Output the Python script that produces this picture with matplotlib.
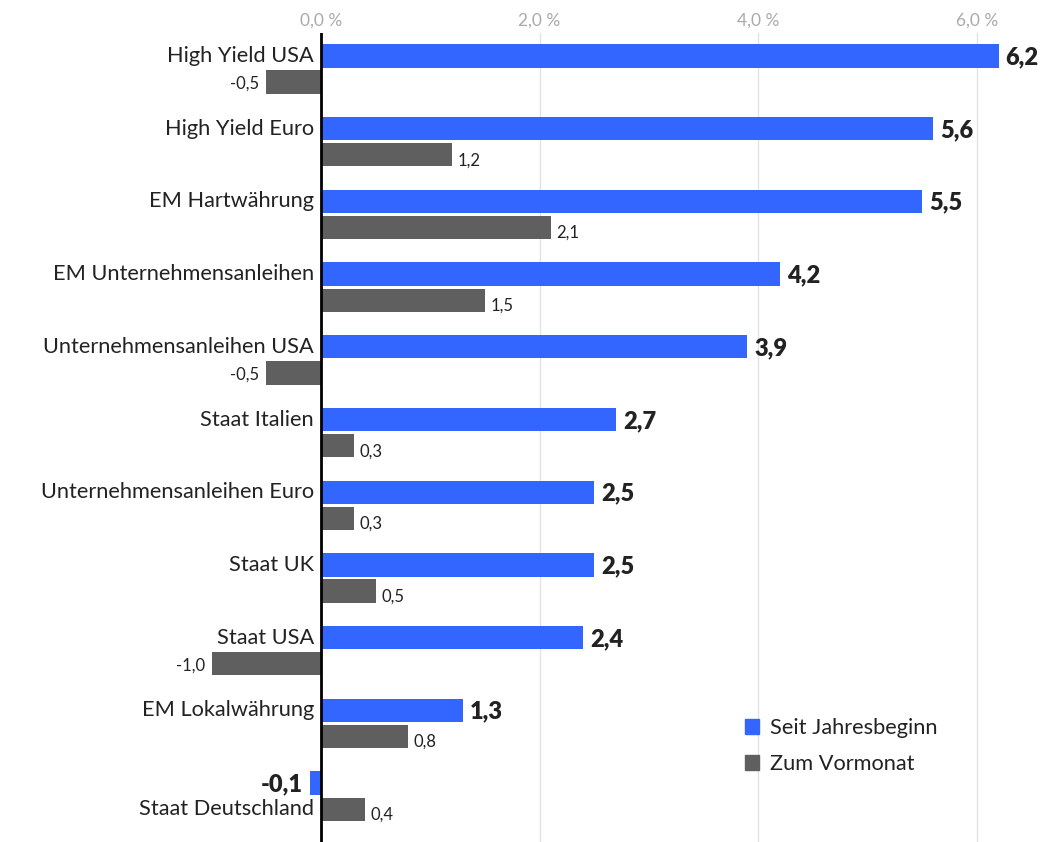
import matplotlib.pyplot as plt
from matplotlib.patches import Patch

plt.rcParams['font.family'] = ['Lato', 'DejaVu Sans']

categories = ['High Yield USA', 'High Yield Euro', 'EM Hartwährung',
              'EM Unternehmensanleihen', 'Unternehmensanleihen USA',
              'Staat Italien', 'Unternehmensanleihen Euro', 'Staat UK',
              'Staat USA', 'EM Lokalwährung', 'Staat Deutschland']
ytd = [6.2, 5.6, 5.5, 4.2, 3.9, 2.7, 2.5, 2.5, 2.4, 1.3, -0.1]
mom = [-0.5, 1.2, 2.1, 1.5, -0.5, 0.3, 0.3, 0.5, -1.0, 0.8, 0.4]
ticks = [0, 2, 4, 6]

blue = '#3366ff'
grey = '#5f5f5f'
text_col = '#222222'

fig = plt.figure(figsize=(10.58, 8.42), dpi=100)
# axes cover the whole width, top edge leaves room for the tick labels
ax = fig.add_axes([0, 0, 1, 1 - 33 / 842])

scale = 109.3  # pixels per percentage point
ax.set_xlim(-321 / scale, (1058 - 321) / scale)
ax.set_ylim(10.63, -0.495)

off = 0.18
h = 0.32
pos = list(range(len(categories)))
ax.barh([p - off for p in pos], ytd, height=h, color=blue, zorder=2)
ax.barh([p + off for p in pos], mom, height=h, color=grey, zorder=2)

for p, name, v, m in zip(pos, categories, ytd, mom):
    lbl = f'{v:.1f}'.replace('.', ',')
    if v >= 0:
        ax.annotate(lbl, (v, p - off), xytext=(5, -1), textcoords='offset points',
                    ha='left', va='center', fontsize=17, fontweight='heavy', color=text_col)
        ax.annotate(name, (0, p - off), xytext=(-5, 0), textcoords='offset points',
                    ha='right', va='center', fontsize=15.7, color=text_col)
    else:
        ax.annotate(lbl, (v, p - off), xytext=(-5, -1), textcoords='offset points',
                    ha='right', va='center', fontsize=17, fontweight='heavy', color=text_col)
        ax.annotate(name, (0, p + off), xytext=(-5, 0), textcoords='offset points',
                    ha='right', va='center', fontsize=15.7, color=text_col)
    glbl = f'{m:.1f}'.replace('.', ',')
    if m >= 0:
        ax.annotate(glbl, (m, p + off), xytext=(4, -4), textcoords='offset points',
                    ha='left', va='center', fontsize=12, color=text_col)
    else:
        ax.annotate(glbl, (m, p + off), xytext=(-5, -1), textcoords='offset points',
                    ha='right', va='center', fontsize=12, color=text_col)

ax.axvline(0, color='black', lw=2, zorder=3)
ax.set_xticks(ticks)
ax.set_xticklabels([f'{t:.1f} %'.replace('.', ',') for t in ticks])
ax.xaxis.tick_top()
ax.tick_params(axis='x', length=0, pad=3, labelsize=12.5, labelcolor='#aaaaaa')
ax.set_yticks([])
ax.grid(axis='x', color='#e3e3e3', lw=1, zorder=0)
for s in ax.spines.values():
    s.set_visible(False)

handles = [Patch(color=blue, label='Seit Jahresbeginn'),
           Patch(color=grey, label='Zum Vormonat')]
ax.legend(handles=handles, loc='upper left', bbox_to_anchor=(745 / 1058, 1 - 718 / 842),
          bbox_transform=fig.transFigure, frameon=False, fontsize=15.7,
          handlelength=0.65, handleheight=0.65, handletextpad=0.5, labelspacing=0.75,
          borderpad=0, borderaxespad=0, labelcolor=text_col)

plt.savefig('out.png', dpi=100)
